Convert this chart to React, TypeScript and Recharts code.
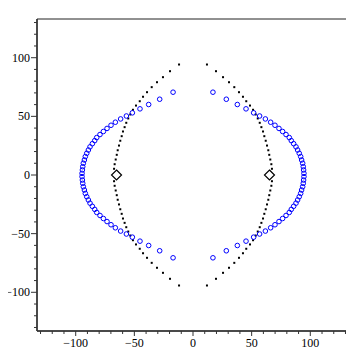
import React from 'react';
import { ScatterChart, Scatter, XAxis, YAxis, ReferenceArea } from 'recharts';

// upper-right quarter of the blue ring (the plot is symmetric)
const ringX = [17, 28.4, 37.8, 45.2, 51.7, 56.8, 61.7, 66.2, 69.9, 73.3, 76.4, 79.3, 82.1, 83.8, 85.8, 87.8, 89.2, 90.6, 91.8, 92.6, 93.5, 94, 94.3, 94.6];
const ringY = [70.6, 64.6, 60.1, 56.4, 53, 50.3, 47.8, 45, 42.4, 39.7, 37.1, 34.5, 31.9, 29.3, 26.7, 24, 21.3, 18.5, 15.7, 12.8, 10, 7.1, 4.3, 1.4];

// upper-right quarter of the black dotted curve
const dotX = [11.9, 19.6, 25.6, 30.7, 35.2, 39.2, 42.6, 45.4, 48.6, 51.2, 53.5, 55.2, 56.9, 58.3, 59.7, 60.8, 62, 63.1, 64.2, 65, 65.9, 66.8, 67.3];
const dotY = [94.2, 88.5, 83.4, 79.1, 74.9, 70.6, 66.7, 62.9, 59.2, 55.6, 51.6, 48.2, 44.5, 40.8, 37.1, 33.1, 29.2, 25.1, 21.1, 17.2, 13.2, 9.2, 5.3];

const markerX = [-65.2, 65.2];
const markerY = [0, 0];

const tickValues = [-130, -120, -110, -100, -90, -80, -70, -60, -50, -40, -30, -20, -10, 0, 10, 20, 30, 40, 50, 60, 70, 80, 90, 100, 110, 120, 130];
const labelValues = [-100, -50, 0, 50, 100];

const mirror = (xs: number[], ys: number[]) => {
  const out: { x: number; y: number }[] = [];
  xs.forEach((x, i) => {
    out.push({ x, y: ys[i] }, { x, y: -ys[i] }, { x: -x, y: ys[i] }, { x: -x, y: -ys[i] });
  });
  return out;
};

const ringData = mirror(ringX, ringY);
const dotData = mirror(dotX, dotY);
const markerData = markerX.map((x, i) => ({ x, y: markerY[i] }));

const serif = 'Liberation Serif, Times New Roman, serif';
const fmt = (v: number) => (v < 0 ? '\u2212' + Math.abs(v) : String(v));

const XTick = ({ x, y, payload }: any) => {
  const v = payload.value;
  const major = labelValues.includes(v);
  return (
    <g>
      <line x1={x} y1={y} x2={x} y2={y + (major ? 5 : 3)} stroke="#333" />
      {major && (
        <text x={x} y={y + 16} textAnchor="middle" fontSize={12} fontFamily={serif} fill="#000">
          {fmt(v)}
        </text>
      )}
    </g>
  );
};

const YTick = ({ x, y, payload }: any) => {
  const v = payload.value;
  const major = labelValues.includes(v);
  return (
    <g>
      <line x1={x - (major ? 6 : 3)} y1={y} x2={x} y2={y} stroke="#333" />
      {major && (
        <text x={x - 7} y={y + 4} textAnchor="end" fontSize={12} fontFamily={serif} fill="#000">
          {fmt(v)}
        </text>
      )}
    </g>
  );
};

const Ring = ({ cx, cy }: any) => <circle cx={cx} cy={cy} r={2.3} fill="none" stroke="#0000ff" strokeWidth={1} />;
const Dot = ({ cx, cy }: any) => <rect x={cx - 1} y={cy - 1} width={2} height={2} fill="#000" />;
const Diamond = ({ cx, cy }: any) => (
  <polygon
    points={`${cx},${cy - 5} ${cx + 5},${cy} ${cx},${cy + 5} ${cx - 5},${cy}`}
    fill="none"
    stroke="#000"
    strokeWidth={1.2}
  />
);

export default function App() {
  return (
    <div style={{ margin: '-8px 0 0 -8px', width: 354, height: 354 }}>
      <ScatterChart width={354} height={354} margin={{ top: 19, right: 5, left: 8, bottom: 0 }}>
        <ReferenceArea x1={-133} x2={133} y1={-133} y2={133} fill="none" stroke="#222" strokeWidth={1} ifOverflow="visible" />
        <XAxis
          type="number"
          dataKey="x"
          domain={[-133, 133]}
          allowDataOverflow
          ticks={tickValues}
          interval={0}
          tick={<XTick />}
          tickLine={false}
          tickSize={0}
          tickMargin={0}
          height={23}
          axisLine={{ stroke: '#333', strokeWidth: 1.5 }}
        />
        <YAxis
          type="number"
          dataKey="y"
          domain={[-133, 133]}
          allowDataOverflow
          ticks={tickValues}
          interval={0}
          tick={<YTick />}
          tickLine={false}
          tickSize={0}
          tickMargin={0}
          width={29}
          axisLine={{ stroke: '#333', strokeWidth: 1.5 }}
        />
        <Scatter data={dotData} shape={<Dot />} isAnimationActive={false} />
        <Scatter data={ringData} shape={<Ring />} isAnimationActive={false} />
        <Scatter data={markerData} shape={<Diamond />} isAnimationActive={false} />
      </ScatterChart>
    </div>
  );
}
